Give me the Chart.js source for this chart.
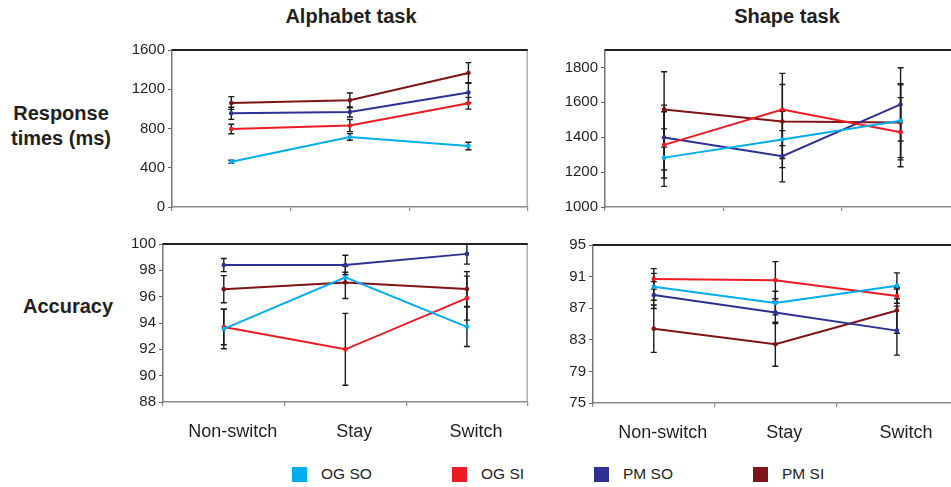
<!DOCTYPE html>
<html><head><meta charset="utf-8">
<script src="https://cdn.jsdelivr.net/npm/chart.js@4.4.1/dist/chart.umd.min.js"></script>
<style>
html,body{margin:0;padding:0;background:#fff;width:951px;height:487px;overflow:hidden;font-family:"Liberation Sans",Arial,Helvetica,sans-serif;color:#231f20;}
.title{position:absolute;font-weight:bold;font-size:20px;line-height:24px;text-align:center;white-space:nowrap;}
.cv{position:absolute;}
.leg{position:absolute;font-size:15.5px;line-height:18px;white-space:nowrap;}
.sw{position:absolute;width:15px;height:15px;}
</style></head><body>
<div class="title" style="left:251px;top:4px;width:200px">Alphabet task</div>
<div class="title" style="left:687px;top:4px;width:200px">Shape task</div>
<div class="title" style="left:0px;top:101px;width:122px;line-height:25px">Response<br>times (ms)</div>
<div class="title" style="left:7px;top:294px;width:122px">Accuracy</div>
<div class="cv" style="left:110px;top:38px;width:420px;height:181px"><canvas id="c1"></canvas></div>
<div class="cv" style="left:545px;top:38px;width:417px;height:181px"><canvas id="c2"></canvas></div>
<div class="cv" style="left:103px;top:232px;width:427px;height:220px"><canvas id="c3"></canvas></div>
<div class="cv" style="left:533px;top:233px;width:427px;height:220px"><canvas id="c4"></canvas></div>
<div id="legend"></div>
<script>
// ---- data ----
const categories = ['Non-switch', 'Stay', 'Switch'];
const seriesNames = ['OG SO', 'OG SI', 'PM SO', 'PM SI'];
const seriesColors = ['#00AEEF', '#ED1C24', '#2E3192', '#7F1416'];

// Alphabet task – response times (ms)
const alphaRT_OGSO = [462, 714, 622];
const alphaRT_OGSI = [795, 830, 1057];
const alphaRT_PMSO = [955, 968, 1166];
const alphaRT_PMSI = [1060, 1087, 1366];
const alphaRTerr_OGSO = [15, 34, 38];
const alphaRTerr_OGSI = [49, 62, 60];
const alphaRTerr_PMSO = [62, 51, 102];
const alphaRTerr_PMSI = [65, 75, 105];

// Shape task – response times (ms)
const shapeRT_OGSO = [1283, 1387, 1495];
const shapeRT_OGSI = [1356, 1559, 1429];
const shapeRT_PMSO = [1398, 1291, 1588];
const shapeRT_PMSI = [1559, 1490, 1485];
const shapeRTerr_OGSO = [165, 161, 212];
const shapeRTerr_OGSI = [190, 207, 198];
const shapeRTerr_PMSO = [186, 147, 210];
const shapeRTerr_PMSI = [216, 212, 215];

// Alphabet task – accuracy (%)
const alphaAcc_OGSO = [93.55, 97.46, 93.71];
const alphaAcc_OGSI = [93.7, 92.0, 95.89];
const alphaAcc_PMSO = [98.4, 98.4, 99.25];
const alphaAcc_PMSI = [96.57, 97.08, 96.58];
const alphaAccErr_OGSO = [1.5, 0.4, 1.5];
const alphaAccErr_OGSI = [1.35, 2.73, 1.67];
const alphaAccErr_PMSO = [0.5, 0.74, 0.78];
const alphaAccErr_PMSI = [1.03, 1.22, 1.32];

// Shape task – accuracy (%)
const shapeAcc_OGSO = [89.71, 87.65, 89.83];
const shapeAcc_OGSI = [90.71, 90.55, 88.53];
const shapeAcc_PMSO = [88.66, 86.47, 84.16];
const shapeAcc_PMSI = [84.41, 82.44, 86.72];
const shapeAccErr_OGSO = [1.7, 1.5, 1.64];
const shapeAccErr_OGSI = [1.3, 2.35, 0.9];
const shapeAccErr_PMSO = [1.7, 1.4, 3.1];
const shapeAccErr_PMSI = [3.0, 2.78, 2.9];

// axis ranges / ticks
const rtAlphaTicks = {min: 0, max: 1600, step: 400};
const rtShapeTicks = {min: 1000, max: 1900, step: 200};
const accAlphaTicks = {min: 88, max: 100, step: 2};
const accShapeTicks = {min: 75, max: 95, step: 4};

// ---- plugins ----
const errorBars = {
  id: 'errorBars',
  beforeDatasetsDraw(chart) {
    const ctx = chart.ctx, ys = chart.scales.y;
    chart.data.datasets.forEach((ds, i) => {
      const meta = chart.getDatasetMeta(i);
      if (!ds.errors) return;
      ctx.save();
      ctx.strokeStyle = '#1a1a1a';
      ctx.lineWidth = 1.4;
      meta.data.forEach((pt, j) => {
        const v = ds.data[j], e = ds.errors[j];
        const t = ys.getPixelForValue(v + e), b = ys.getPixelForValue(v - e), x = pt.x;
        ctx.beginPath();
        ctx.moveTo(x, t); ctx.lineTo(x, b);
        ctx.moveTo(x - 3, t); ctx.lineTo(x + 3, t);
        ctx.moveTo(x - 3, b); ctx.lineTo(x + 3, b);
        ctx.stroke();
      });
      ctx.restore();
    });
  }
};
const frame = {
  id: 'frame',
  beforeDatasetsDraw(chart) {
    const {ctx, chartArea: a} = chart;
    ctx.save();
    ctx.strokeStyle = '#9a9a9a'; ctx.lineWidth = 1.2;
    ctx.beginPath(); ctx.moveTo(a.right - 0.5, a.top); ctx.lineTo(a.right - 0.5, a.bottom); ctx.stroke();
    ctx.strokeStyle = '#231f20'; ctx.lineWidth = 2;
    ctx.beginPath(); ctx.moveTo(a.left, a.top); ctx.lineTo(a.right, a.top); ctx.stroke();
    ctx.restore();
  }
};

function makeChart(id, series, errs, ticks, showLabels) {
  const datasets = series.map((d, i) => ({
    label: seriesNames[i],
    data: d,
    errors: errs[i],
    borderColor: seriesColors[i],
    backgroundColor: seriesColors[i],
    borderWidth: 2,
    pointRadius: 2.3,
    pointBorderWidth: 0,
    pointHoverRadius: 2.3,
    tension: 0
  }));
  return new Chart(document.getElementById(id), {
    type: 'line',
    data: {labels: categories, datasets},
    plugins: [errorBars, frame],
    options: {
      responsive: true,
      maintainAspectRatio: false,
      animation: false,
      events: [],
      layout: {padding: {top: 12, right: 0, left: 0, bottom: 0}},
      plugins: {legend: {display: false}, tooltip: {enabled: false}, title: {display: false}},
      scales: {
        x: {
          type: 'category',
          offset: true,
          grid: {offset: true, drawOnChartArea: false, drawTicks: true, tickLength: 4, color: '#888', lineWidth: 1.2},
          border: {display: true, color: '#8a8a8a', width: 1.5},
          ticks: {
            display: showLabels,
            color: '#231f20',
            padding: 15,
            labelOffset: 9,
            maxRotation: 0,
            font: {family: '"Liberation Sans", Arial, sans-serif', size: 18}
          },
          afterFit(s) { s.height = showLabels ? 50 : 12; }
        },
        y: {
          min: ticks.min,
          max: ticks.max,
          grid: {drawOnChartArea: false, drawTicks: true, tickLength: 4, color: '#666', lineWidth: 1},
          border: {display: true, color: '#777', width: 1.5},
          ticks: {
            stepSize: ticks.step,
            includeBounds: false,
            color: '#231f20',
            padding: 3,
            callback: v => String(v),
            font: {family: '"Liberation Sans", Arial, sans-serif', size: 15}
          },
          afterFit(s) { s.width = id === 'c1' ? 62 : 60; }
        }
      }
    }
  });
}

makeChart('c1', [alphaRT_OGSO, alphaRT_OGSI, alphaRT_PMSO, alphaRT_PMSI],
  [alphaRTerr_OGSO, alphaRTerr_OGSI, alphaRTerr_PMSO, alphaRTerr_PMSI], rtAlphaTicks, false);
makeChart('c2', [shapeRT_OGSO, shapeRT_OGSI, shapeRT_PMSO, shapeRT_PMSI],
  [shapeRTerr_OGSO, shapeRTerr_OGSI, shapeRTerr_PMSO, shapeRTerr_PMSI], rtShapeTicks, false);
makeChart('c3', [alphaAcc_OGSO, alphaAcc_OGSI, alphaAcc_PMSO, alphaAcc_PMSI],
  [alphaAccErr_OGSO, alphaAccErr_OGSI, alphaAccErr_PMSO, alphaAccErr_PMSI], accAlphaTicks, true);
makeChart('c4', [shapeAcc_OGSO, shapeAcc_OGSI, shapeAcc_PMSO, shapeAcc_PMSI],
  [shapeAccErr_OGSO, shapeAccErr_OGSI, shapeAccErr_PMSO, shapeAccErr_PMSI], accShapeTicks, true);

// legend (built from series names/colours)
const legendX = [292, 452, 594, 753];
const leg = document.getElementById('legend');
seriesNames.forEach((n, i) => {
  const sw = document.createElement('div');
  sw.className = 'sw';
  sw.style.left = legendX[i] + 'px';
  sw.style.top = '467px';
  sw.style.background = seriesColors[i];
  leg.appendChild(sw);
  const t = document.createElement('div');
  t.className = 'leg';
  t.style.left = (legendX[i] + 29) + 'px';
  t.style.top = '465px';
  t.textContent = n;
  leg.appendChild(t);
});
</script>
</body></html>
